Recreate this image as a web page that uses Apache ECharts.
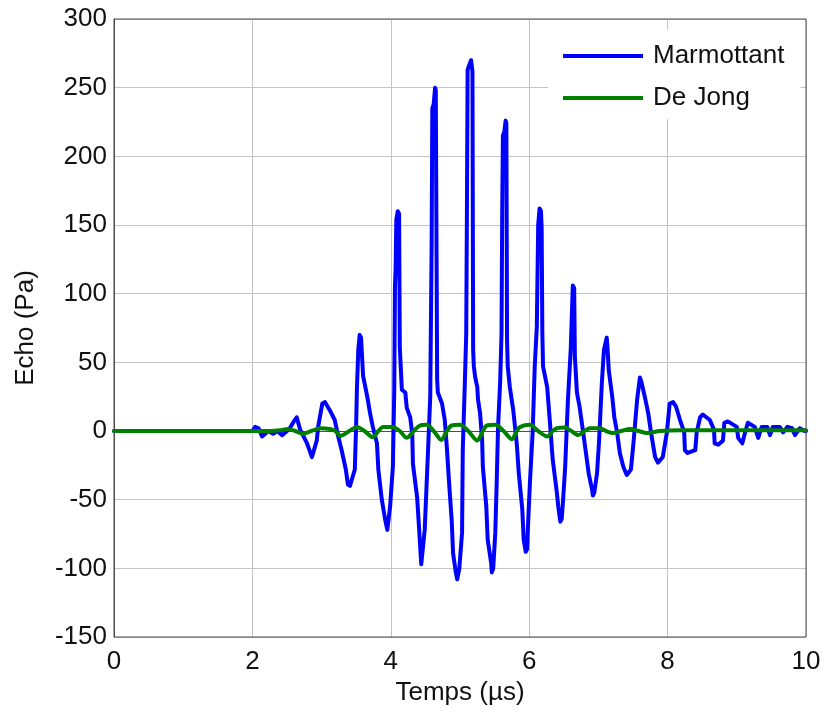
<!DOCTYPE html>
<html>
<head>
<meta charset="utf-8">
<script src="https://cdn.jsdelivr.net/npm/echarts@6/dist/echarts.min.js"></script>
<style>html,body{margin:0;padding:0;background:#fff}#c{width:826px;height:713px}</style>
</head>
<body>
<div id="c"></div>
<script>
const seriesNames = ['Marmottant', 'De Jong'];
const xTicks = [0, 2, 4, 6, 8, 10];
const yTicks = [-150, -100, -50, 0, 50, 100, 150, 200, 250, 300];

const marmottant = [
[0,0],[2.0,0],
[2.04,3],[2.09,2],[2.14,-4],[2.23,0],[2.30,-2],[2.36,0],[2.43,-3],[2.50,0],[2.54,2],[2.60,7],[2.64,10],[2.69,1],[2.79,-9],[2.86,-19],[2.93,-7],[2.95,3],[3.01,20],[3.05,21],[3.12,15],[3.19,8],[3.24,-4],[3.29,-14],[3.35,-28],[3.38,-39],[3.41,-40],[3.48,-28],[3.50,6],[3.51,30],[3.53,59],[3.55,70],[3.57,68],[3.60,40],[3.66,25],[3.70,13],[3.74,3],[3.80,-9],[3.82,-28],[3.87,-50],[3.92,-65],[3.95,-72],[3.99,-55],[4.03,-26],[4.05,30],[4.06,105],[4.07,119],[4.08,154],[4.10,160],[4.12,158],[4.13,61],[4.16,30],[4.21,28],[4.23,17],[4.28,10],[4.31,-2],[4.32,-24],[4.38,-48],[4.41,-72],[4.44,-97],[4.46,-96],[4.49,-72],[4.52,-36],[4.54,-12],[4.57,25],[4.59,134],[4.60,235],[4.62,238],[4.64,250],[4.65,248],[4.67,37],[4.68,28],[4.74,20],[4.78,8],[4.81,-12],[4.84,-36],[4.88,-65],[4.90,-89],[4.94,-103],[4.96,-108],[4.99,-100],[5.03,-74],[5.04,-14],[5.07,35],[5.09,71],[5.10,159],[5.11,263],[5.13,266],[5.16,270],[5.18,262],[5.19,59],[5.20,47],[5.22,39],[5.25,32],[5.26,23],[5.29,13],[5.32,-7],[5.33,-26],[5.38,-55],[5.40,-79],[5.45,-96],[5.46,-103],[5.48,-100],[5.51,-74],[5.53,-38],[5.55,3],[5.58,35],[5.60,71],[5.61,160],[5.62,215],[5.64,218],[5.66,226],[5.67,224],[5.68,66],[5.69,47],[5.72,32],[5.77,15],[5.82,-9],[5.85,-31],[5.90,-57],[5.92,-79],[5.95,-88],[5.97,-86],[5.98,-72],[6.01,-38],[6.05,-1],[6.08,47],[6.11,76],[6.13,150],[6.15,162],[6.17,160],[6.18,148],[6.19,71],[6.20,47],[6.26,32],[6.30,6],[6.34,-21],[6.40,-45],[6.42,-55],[6.45,-66],[6.47,-64],[6.49,-50],[6.52,-26],[6.56,23],[6.60,59],[6.62,90],[6.63,106],[6.65,104],[6.66,54],[6.69,28],[6.73,17],[6.78,-1],[6.82,-16],[6.86,-31],[6.91,-43],[6.92,-47],[6.94,-45],[6.98,-31],[7.01,-7],[7.05,35],[7.08,59],[7.12,68],[7.13,62],[7.15,44],[7.20,25],[7.23,10],[7.27,-1],[7.31,-16],[7.36,-26],[7.41,-32],[7.47,-28],[7.51,-7],[7.56,23],[7.60,39],[7.62,36],[7.67,25],[7.72,13],[7.76,-1],[7.82,-19],[7.86,-23],[7.93,-19],[7.99,-1],[8.03,20],[8.08,21],[8.12,18],[8.18,8],[8.24,-1],[8.25,-14],[8.29,-16],[8.40,-14],[8.42,-1],[8.47,10],[8.51,12],[8.61,8],[8.67,1],[8.68,-9],[8.73,-10],[8.80,-7],[8.82,6],[8.87,7],[9.00,3],[9.02,-5],[9.08,-9],[9.12,-1],[9.16,6],[9.26,3],[9.31,-5],[9.36,3],[9.44,3],[9.48,-3],[9.52,3],[9.62,3],[9.67,-1],[9.73,3],[9.80,2],[9.84,-3],[9.91,2],[9.98,0],[10,0]
];

const deJong = [
[0,0],[2.25,0],[2.40,0.5],[2.51,1.5],[2.62,0],[2.73,-2],[2.85,0],[2.98,2],[3.12,1.5],[3.20,0],[3.27,-3.5],[3.40,0],[3.51,3],[3.62,0],[3.74,-4.5],[3.82,0],[3.89,3],[4.03,3],[4.13,0],[4.23,-5],[4.33,0],[4.42,4],[4.52,4.5],[4.62,0],[4.73,-6.5],[4.81,0],[4.88,4],[5.00,4.5],[5.12,0],[5.25,-7],[5.33,0],[5.39,4],[5.51,4.5],[5.63,0],[5.75,-6],[5.82,0],[5.87,3],[6.01,4.5],[6.13,0],[6.26,-4],[6.34,0],[6.40,2],[6.52,2.5],[6.61,0],[6.71,-3],[6.80,0],[6.88,2],[7.02,2],[7.11,0],[7.21,-1.5],[7.33,0],[7.46,1.5],[7.58,0],[7.70,-1.5],[7.89,0],[8.2,0.5],[10,0.5]
];

const FONT = "'Liberation Sans', Arial, sans-serif";
const axisColor = '#4d4d4d';
const gridColor = '#c4c4c4';
const FS = 26;

const chart = echarts.init(document.getElementById('c'), null, {renderer: 'canvas'});
const xMin = xTicks[0], xMax = xTicks[xTicks.length-1];
const yMin = yTicks[0], yMax = yTicks[yTicks.length-1];

chart.setOption({
  animation: false,
  backgroundColor: '#fff',
  textStyle: {fontFamily: FONT},
  grid: {left: 114, right: 20, top: 19, bottom: 76, containLabel: false, outerBoundsMode: 'none',
         show: true, borderColor: axisColor, borderWidth: 1, z: 10},
  legend: {
    data: seriesNames,
    orient: 'vertical',
    left: 548, top: 30,
    padding: [13, 16, 8, 15],
    itemGap: 16,
    itemWidth: 80, itemHeight: 4,
    icon: 'rect',
    backgroundColor: '#fff',
    textStyle: {fontSize: FS, color: '#111', fontFamily: FONT, padding: [0,0,0,5]}
  },
  xAxis: [{
    type: 'value', min: xMin, max: xMax, interval: 2,
    name: 'Temps (µs)', nameLocation: 'middle', nameGap: 41,
    nameTextStyle: {fontSize: FS, color: '#111', fontFamily: FONT},
    axisLine: {show: true, lineStyle: {color: axisColor}},
    axisTick: {show: false},
    axisLabel: {fontSize: FS, color: '#111', margin: 12, fontFamily: FONT},
    splitLine: {show: true, lineStyle: {color: gridColor, width: 1}}
  }],
  yAxis: [{
    type: 'value', min: yMin, max: yMax, interval: 50,
    name: 'Echo (Pa)', nameLocation: 'middle', nameGap: 75, nameRotate: 90,
    nameTextStyle: {fontSize: FS, color: '#111', fontFamily: FONT},
    axisLine: {show: true, lineStyle: {color: axisColor}},
    axisTick: {show: false},
    axisLabel: {fontSize: FS, color: '#111', margin: 7, fontFamily: FONT},
    splitLine: {show: true, lineStyle: {color: gridColor, width: 1}}
  }],
  series: [{
    name: seriesNames[0], type: 'line',
    data: marmottant, showSymbol: false, symbol: 'none',
    color: '#0000ff',
    lineStyle: {color: '#0000ff', width: 4, join: 'round', cap: 'round'}
  }, {
    name: seriesNames[1], type: 'line',
    data: deJong, showSymbol: false, symbol: 'none', smooth: 0.3,
    color: '#008000',
    lineStyle: {color: '#008000', width: 4, join: 'round', cap: 'round'}
  }]
});
</script>
</body>
</html>
